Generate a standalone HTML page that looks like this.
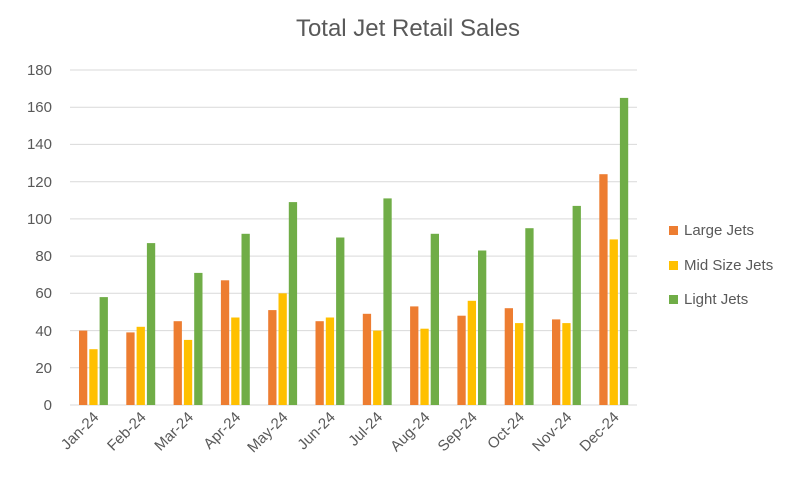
<!DOCTYPE html>
<html><head><style>body{margin:0;background:#fff}svg{display:block}</style></head><body>
<svg width="810" height="480" xmlns="http://www.w3.org/2000/svg" font-family="Liberation Sans, sans-serif">
<rect width="810" height="480" fill="#fff"/>
<text x="408" y="36" font-size="24" fill="#595959" text-anchor="middle">Total Jet Retail Sales</text>
<g stroke="#d9d9d9" stroke-width="1">
<line x1="70" x2="637" y1="70" y2="70"/><line x1="70" x2="637" y1="107.2" y2="107.2"/><line x1="70" x2="637" y1="144.4" y2="144.4"/><line x1="70" x2="637" y1="181.7" y2="181.7"/><line x1="70" x2="637" y1="218.9" y2="218.9"/><line x1="70" x2="637" y1="256.1" y2="256.1"/><line x1="70" x2="637" y1="293.3" y2="293.3"/><line x1="70" x2="637" y1="330.6" y2="330.6"/><line x1="70" x2="637" y1="367.8" y2="367.8"/><line x1="70" x2="637" y1="405" y2="405"/>
</g>
<g font-size="15" fill="#595959" text-anchor="end">
<text x="52" y="75">180</text><text x="52" y="112">160</text><text x="52" y="149">140</text><text x="52" y="187">120</text><text x="52" y="224">100</text><text x="52" y="261">80</text><text x="52" y="298">60</text><text x="52" y="336">40</text><text x="52" y="373">20</text><text x="52" y="410">0</text>
</g>
<g fill="#ed7d31">
<rect x="79" y="330.6" width="8.3" height="74.4"/>
<rect x="126.3" y="332.4" width="8.3" height="72.6"/>
<rect x="173.6" y="321.2" width="8.3" height="83.8"/>
<rect x="220.9" y="280.3" width="8.3" height="124.7"/>
<rect x="268.2" y="310.1" width="8.3" height="94.9"/>
<rect x="315.5" y="321.2" width="8.3" height="83.8"/>
<rect x="362.8" y="313.8" width="8.3" height="91.2"/>
<rect x="410.1" y="306.4" width="8.3" height="98.6"/>
<rect x="457.4" y="315.7" width="8.3" height="89.3"/>
<rect x="504.7" y="308.2" width="8.3" height="96.8"/>
<rect x="552" y="319.4" width="8.3" height="85.6"/>
<rect x="599.3" y="174.2" width="8.3" height="230.8"/>
</g>
<g fill="#ffc000">
<rect x="89.3" y="349.2" width="8.3" height="55.8"/>
<rect x="136.6" y="326.8" width="8.3" height="78.2"/>
<rect x="183.9" y="339.9" width="8.3" height="65.1"/>
<rect x="231.2" y="317.5" width="8.3" height="87.5"/>
<rect x="278.5" y="293.3" width="8.3" height="111.7"/>
<rect x="325.8" y="317.5" width="8.3" height="87.5"/>
<rect x="373.1" y="330.6" width="8.3" height="74.4"/>
<rect x="420.4" y="328.7" width="8.3" height="76.3"/>
<rect x="467.7" y="300.8" width="8.3" height="104.2"/>
<rect x="515" y="323.1" width="8.3" height="81.9"/>
<rect x="562.3" y="323.1" width="8.3" height="81.9"/>
<rect x="609.6" y="239.4" width="8.3" height="165.6"/>
</g>
<g fill="#70ad47">
<rect x="99.6" y="297.1" width="8.3" height="107.9"/>
<rect x="146.9" y="243.1" width="8.3" height="161.9"/>
<rect x="194.2" y="272.9" width="8.3" height="132.1"/>
<rect x="241.5" y="233.8" width="8.3" height="171.2"/>
<rect x="288.8" y="202.1" width="8.3" height="202.9"/>
<rect x="336.1" y="237.5" width="8.3" height="167.5"/>
<rect x="383.4" y="198.4" width="8.3" height="206.6"/>
<rect x="430.7" y="233.8" width="8.3" height="171.2"/>
<rect x="478" y="250.5" width="8.3" height="154.5"/>
<rect x="525.3" y="228.2" width="8.3" height="176.8"/>
<rect x="572.6" y="205.9" width="8.3" height="199.1"/>
<rect x="619.9" y="97.9" width="8.3" height="307.1"/>
</g>
<g font-size="15" fill="#595959">
<rect x="669" y="226" width="9" height="9" fill="#ed7d31"/><text x="684" y="235">Large Jets</text>
<rect x="669" y="261" width="9" height="9" fill="#ffc000"/><text x="684" y="270">Mid Size Jets</text>
<rect x="669" y="295" width="9" height="9" fill="#70ad47"/><text x="684" y="304">Light Jets</text>
</g>
<g font-size="15" fill="#595959" text-anchor="end">
<text transform="translate(99.5,418) rotate(-45)">Jan-24</text>
<text transform="translate(146.8,418) rotate(-45)">Feb-24</text>
<text transform="translate(194.1,418) rotate(-45)">Mar-24</text>
<text transform="translate(241.4,418) rotate(-45)">Apr-24</text>
<text transform="translate(288.7,418) rotate(-45)">May-24</text>
<text transform="translate(336,418) rotate(-45)">Jun-24</text>
<text transform="translate(383.3,418) rotate(-45)">Jul-24</text>
<text transform="translate(430.6,418) rotate(-45)">Aug-24</text>
<text transform="translate(477.9,418) rotate(-45)">Sep-24</text>
<text transform="translate(525.2,418) rotate(-45)">Oct-24</text>
<text transform="translate(572.5,418) rotate(-45)">Nov-24</text>
<text transform="translate(619.8,418) rotate(-45)">Dec-24</text>
</g>
</svg>
</body></html>
